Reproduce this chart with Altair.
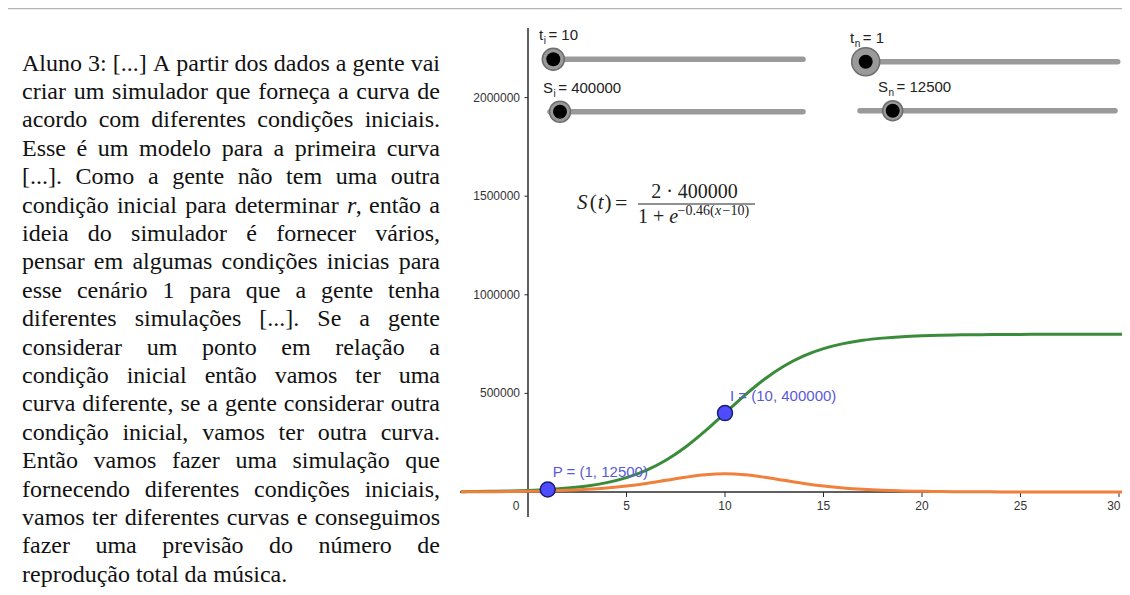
import altair as alt
import pandas as pd

# ---------------- data ----------------
t_values = [-3.4, -3, -2, -1, 0, 1, 2, 3, 4, 5, 6, 7, 8, 9, 10, 11, 12, 13, 14, 15,
            16, 17, 18, 19, 20, 21, 22, 23, 24, 25, 26, 27, 28, 29, 30, 31]
s_values = [1700, 2000, 3200, 5000, 8000, 12500, 19700, 30700, 47600, 72900, 109600,
            160800, 228000, 309600, 400000, 490400, 572000, 639200, 690400, 727100,
            752400, 769300, 780300, 787500, 792000, 795000, 796800, 798000, 798700,
            799200, 799500, 799700, 799800, 799900, 799900, 800000]
ds_values = [770, 930, 1460, 2300, 3600, 5700, 8800, 13600, 20600, 30500, 43500, 59100,
             75000, 87300, 92000, 87300, 75000, 59100, 43500, 30500, 20600, 13600, 8800,
             5700, 3600, 2300, 1460, 930, 590, 370, 230, 150, 90, 60, 40, 20]

point_names = ["P", "I"]
point_t = [1, 10]
point_s = [12500, 400000]

x_ticks = [5, 10, 15, 20, 25, 30]
y_ticks = [500000, 1000000, 1500000, 2000000]

slider_letters = ["t", "S", "t", "S"]
slider_subs = ["i", "i", "n", "n"]
slider_values = ["10", "400000", "1", "12500"]

formula_numerator = "2 · 400000"
formula_exponent = ["−0.46(", "x", "−10)"]

paragraph = [
    "Aluno 3: [...] A partir dos dados a gente vai",
    "criar um simulador que forneça a curva de",
    "acordo com diferentes condições iniciais.",
    "Esse é um modelo para a primeira curva",
    "[...]. Como a gente não tem uma outra",
    "condição inicial para determinar r, então a",
    "ideia do simulador é fornecer vários,",
    "pensar em algumas condições inicias para",
    "esse cenário 1 para que a gente tenha",
    "diferentes simulações [...]. Se a gente",
    "considerar um ponto em relação a",
    "condição inicial então vamos ter uma",
    "curva diferente, se a gente considerar outra",
    "condição inicial, vamos ter outra curva.",
    "Então vamos fazer uma simulação que",
    "fornecendo diferentes condições iniciais,",
    "vamos ter diferentes curvas e conseguimos",
    "fazer uma previsão do número de",
    "reprodução total da música.",
]

# ---------------- layout helpers ----------------
W, H = 1114, 579
X0PX, XPPU = 520.0, 19.7          # pixel of t=0, pixels per unit
Y0PX, YPPU = 484.0, 98.6 / 500000  # pixel of S=0, pixels per unit
XMIN, XMAX = -X0PX / XPPU, (W - X0PX) / XPPU
YMIN, YMAX = -(H - Y0PX) / YPPU, Y0PX / YPPU

TIMES = {" ": 250, ".": 250, ",": 250, ":": 278, "[": 333, "]": 333, "(": 333, ")": 333,
         "=": 564, "+": 564, "·": 250, "−": 564}
TIMES.update({c: 500 for c in "0123456789"})
TIMES.update(dict(zip("abcdefghijklmnopqrstuvwxyz",
                      [444, 500, 444, 500, 444, 333, 500, 500, 278, 278, 500, 278, 778, 500,
                       500, 500, 500, 333, 389, 278, 500, 500, 722, 500, 500, 444])))
TIMES.update(dict(zip("ABCDEFGHIJKLMNOPQRSTUVWXYZ",
                      [722, 667, 667, 722, 611, 556, 722, 722, 333, 389, 722, 611, 889, 722,
                       722, 556, 722, 667, 556, 611, 722, 722, 944, 722, 722, 611])))
TIMES.update({"á": 444, "à": 444, "â": 444, "ã": 444, "é": 444, "ê": 444, "í": 278,
              "ó": 500, "ô": 500, "õ": 500, "ú": 500, "ç": 444})
ARIAL = {"t": 278, "S": 667, "i": 222, "n": 556, "=": 584, " ": 278}
ARIAL.update({c: 556 for c in "0123456789"})


def tw(s, size):
    return sum(TIMES.get(c, 500) for c in s) * size / 1000.0


def aw(s, size):
    return sum(ARIAL.get(c, 556) for c in s) * size / 1000.0


# justified paragraph
FS = 24
LEFT, RIGHT = 14.0, 432.0
normal_rows, italic_rows = [], []
for i, line in enumerate(paragraph):
    words = line.split(" ")
    y = 62.5 + i * 28.4
    total = sum(tw(w, FS) for w in words)
    if i == len(paragraph) - 1:
        gap = tw(" ", FS)
    else:
        gap = (RIGHT - LEFT - total) / (len(words) - 1)
    x = LEFT
    for w in words:
        if w == "r,":
            italic_rows.append({"px": x, "py": y, "txt": "r"})
            normal_rows.append({"px": x + tw("r", FS) + 1, "py": y, "txt": ","})
        else:
            normal_rows.append({"px": x, "py": y, "txt": w})
        x += tw(w, FS) + gap
para_df = pd.DataFrame(normal_rows)
para_it_df = pd.DataFrame(italic_rows)

# data tables
curve_df = pd.DataFrame({"t": t_values, "S": s_values, "dS": ds_values})
pts_df = pd.DataFrame({"name": point_names, "t": point_t, "S": point_s})
pts_df["label"] = [f"{n} = ({t}, {s})" for n, t, s in zip(point_names, point_t, point_s)]

xt_df = pd.DataFrame({"t": x_ticks, "y0": 0, "y1": -5 / YPPU, "yl": -14 / YPPU,
                      "lab": [str(v) for v in x_ticks]})
xt_inner = xt_df.iloc[:-1]
xt_last = xt_df.iloc[-1:]
yt_df = pd.DataFrame({"v": y_ticks, "x0": -3.5 / XPPU, "x1": 0.0, "xl": -8 / XPPU,
                      "lab": [str(v) for v in y_ticks]})
origin_df = pd.DataFrame({"t": [-12 / XPPU], "v": [-14 / YPPU], "lab": ["0"]})
xaxis_df = pd.DataFrame({"a": [-68 / XPPU], "b": [XMAX], "v": [0]})
yaxis_df = pd.DataFrame({"t": [0], "a": [-25 / YPPU], "b": [464 / YPPU]})

# sliders (pixel geometry)
sl_x1 = [540, 542, 854, 852]
sl_x2 = [795, 795, 1109.7, 1107]
sl_y = [51.3, 103.7, 53.7, 102.7]
sl_knob = [545.3, 552, 857.7, 884.7]
sl_halo = [22, 21, 28, 20]
sl_lx = [531, 535, 842, 870]
sl_ly = [27, 80, 30, 78.7]
slider_df = pd.DataFrame({"x1": sl_x1, "x2": sl_x2, "y": sl_y, "k": sl_knob,
                          "halo": [d * d for d in sl_halo]})
lab_rows = []
for L, sub, val, lx, ly in zip(slider_letters, slider_subs, slider_values, sl_lx, sl_ly):
    lab_rows.append({"px": lx, "py": ly, "txt": L, "fs": 15})
    sx = lx + aw(L, 15) + 0.5
    lab_rows.append({"px": sx, "py": ly + 6, "txt": sub, "fs": 10})
    lab_rows.append({"px": sx + aw(sub, 10) + 2.5, "py": ly, "txt": "= " + val, "fs": 15})
slab_df = pd.DataFrame(lab_rows)

# formula pieces
f_norm, f_ital = [], []
fx = 569.0
for piece, ital in [("S", True), ("(", False), ("t", True), (")", False)]:
    (f_ital if ital else f_norm).append({"px": fx, "py": 195, "txt": piece, "fs": 21})
    fx += tw(piece, 21) + 1
f_norm.append({"px": 607, "py": 195, "txt": "=", "fs": 22})
f_norm.append({"px": 630, "py": 209, "txt": "1 +", "fs": 20})
f_ital.append({"px": 630 + tw("1 + ", 20), "py": 209, "txt": "e", "fs": 20})
ex = 669.5
for j, piece in enumerate(formula_exponent):
    (f_ital if j == 1 else f_norm).append({"px": ex, "py": 203, "txt": piece, "fs": 14})
    ex += tw(piece, 14) + 0.5
fn_df = pd.DataFrame(f_norm)
fi_df = pd.DataFrame(f_ital)
num_df = pd.DataFrame({"px": [686.5], "py": [184], "txt": [formula_numerator]})
bar_df = pd.DataFrame({"x1": [630], "x2": [747], "y": [196]})

# ---------------- chart ----------------
xs = alt.Scale(domain=[XMIN, XMAX], nice=False, zero=False)
ys = alt.Scale(domain=[YMIN, YMAX], nice=False, zero=False)
SANS = "Liberation Sans"
SERIF = "Liberation Serif"


def PX(f):
    return alt.X(f, type="quantitative", scale=None, axis=None)


def PY(f):
    return alt.Y(f, type="quantitative", scale=None, axis=None)


layers = []

# frame line at the top
layers.append(alt.Chart(pd.DataFrame({"a": [0]})).mark_rule(color="#b5b5b5", strokeWidth=1.5)
              .encode(x=alt.value(0), x2=alt.value(W), y=alt.value(0.5)))

# paragraph
layers.append(alt.Chart(para_df).mark_text(font=SERIF, fontSize=FS, align="left",
                                           baseline="alphabetic", color="#111111")
              .encode(x=PX("px"), y=PY("py"), text="txt:N"))
layers.append(alt.Chart(para_it_df).mark_text(font=SERIF, fontSize=FS, fontStyle="italic",
                                              align="left", baseline="alphabetic", color="#111111")
              .encode(x=PX("px"), y=PY("py"), text="txt:N"))

# axes
layers.append(alt.Chart(xaxis_df).mark_rule(color="#2b2b2b", strokeWidth=1.5)
              .encode(x=alt.X("a:Q", scale=xs, axis=None), x2="b:Q",
                      y=alt.Y("v:Q", scale=ys, axis=None)))
layers.append(alt.Chart(yaxis_df).mark_rule(color="#2b2b2b", strokeWidth=1.5)
              .encode(x=alt.X("t:Q", scale=xs, axis=None),
                      y=alt.Y("a:Q", scale=ys, axis=None), y2="b:Q"))
layers.append(alt.Chart(xt_df).mark_rule(color="#2b2b2b", strokeWidth=1)
              .encode(x=alt.X("t:Q", scale=xs, axis=None),
                      y=alt.Y("y0:Q", scale=ys, axis=None), y2="y1:Q"))
layers.append(alt.Chart(xt_inner).mark_text(font=SANS, fontSize=12, color="#333333",
                                            baseline="middle", align="center")
              .encode(x=alt.X("t:Q", scale=xs, axis=None),
                      y=alt.Y("yl:Q", scale=ys, axis=None), text="lab:N"))
layers.append(alt.Chart(xt_last).mark_text(font=SANS, fontSize=12, color="#333333",
                                           baseline="middle", align="right", dx=1.5)
              .encode(x=alt.X("t:Q", scale=xs, axis=None),
                      y=alt.Y("yl:Q", scale=ys, axis=None), text="lab:N"))
layers.append(alt.Chart(yt_df).mark_rule(color="#2b2b2b", strokeWidth=1)
              .encode(x=alt.X("x0:Q", scale=xs, axis=None), x2="x1:Q",
                      y=alt.Y("v:Q", scale=ys, axis=None)))
layers.append(alt.Chart(yt_df).mark_text(font=SANS, fontSize=12, color="#333333",
                                         baseline="middle", align="right")
              .encode(x=alt.X("xl:Q", scale=xs, axis=None),
                      y=alt.Y("v:Q", scale=ys, axis=None), text="lab:N"))
layers.append(alt.Chart(origin_df).mark_text(font=SANS, fontSize=12, color="#333333",
                                             baseline="middle", align="center")
              .encode(x=alt.X("t:Q", scale=xs, axis=None),
                      y=alt.Y("v:Q", scale=ys, axis=None), text="lab:N"))

# curves
layers.append(alt.Chart(curve_df).mark_line(color="#3a8c3a", strokeWidth=3,
                                            interpolate="monotone", clip=True)
              .encode(x=alt.X("t:Q", scale=xs, axis=None),
                      y=alt.Y("S:Q", scale=ys, axis=None)))
layers.append(alt.Chart(curve_df).mark_line(color="#f0803c", strokeWidth=3,
                                            interpolate="monotone", clip=True)
              .encode(x=alt.X("t:Q", scale=xs, axis=None),
                      y=alt.Y("dS:Q", scale=ys, axis=None)))

# points and labels
layers.append(alt.Chart(pts_df).mark_circle(size=225, color="#4d4dff", opacity=1,
                                            stroke="#1d1d6e", strokeWidth=1.5)
              .encode(x=alt.X("t:Q", scale=xs, axis=None),
                      y=alt.Y("S:Q", scale=ys, axis=None)))
layers.append(alt.Chart(pts_df).mark_text(font=SANS, fontSize=15, color="#5a5ad8",
                                          align="left", baseline="middle", dx=5, dy=-17.5)
              .encode(x=alt.X("t:Q", scale=xs, axis=None),
                      y=alt.Y("S:Q", scale=ys, axis=None), text="label:N"))

# formula
layers.append(alt.Chart(num_df).mark_text(font=SERIF, fontSize=20, color="#222222",
                                          align="center", baseline="middle")
              .encode(x=PX("px"), y=PY("py"), text="txt:N"))
layers.append(alt.Chart(bar_df).mark_rule(color="#222222", strokeWidth=1)
              .encode(x=PX("x1"), x2="x2:Q", y=PY("y")))
layers.append(alt.Chart(fn_df).mark_text(font=SERIF, color="#222222", align="left",
                                         baseline="middle")
              .encode(x=PX("px"), y=PY("py"), text="txt:N",
                      size=alt.Size("fs:Q", scale=None)))
layers.append(alt.Chart(fi_df).mark_text(font=SERIF, fontStyle="italic", color="#222222",
                                         align="left", baseline="middle")
              .encode(x=PX("px"), y=PY("py"), text="txt:N",
                      size=alt.Size("fs:Q", scale=None)))

# sliders
layers.append(alt.Chart(slider_df).mark_rule(color="#9a9a9a", strokeWidth=5.5, strokeCap="round")
              .encode(x=PX("x1"), x2="x2:Q", y=PY("y")))
layers.append(alt.Chart(slider_df).mark_circle(color="#9a9a9a", opacity=1, stroke="#6e6e6e",
                                               strokeWidth=1.5)
              .encode(x=PX("k"), y=PY("y"), size=alt.Size("halo:Q", scale=None)))
layers.append(alt.Chart(slider_df).mark_circle(color="#000000", opacity=1, size=196)
              .encode(x=PX("k"), y=PY("y")))
layers.append(alt.Chart(slab_df).mark_text(font=SANS, color="#222222", align="left",
                                           baseline="middle")
              .encode(x=PX("px"), y=PY("py"), text="txt:N",
                      size=alt.Size("fs:Q", scale=None)))

chart = (alt.layer(*layers)
         .properties(width=W, height=H, padding=0,
                     autosize=alt.AutoSizeParams(type="none"), background="white")
         .configure_view(stroke=None))

chart.save("out.html", embed_options={"renderer": "svg", "actions": False})
